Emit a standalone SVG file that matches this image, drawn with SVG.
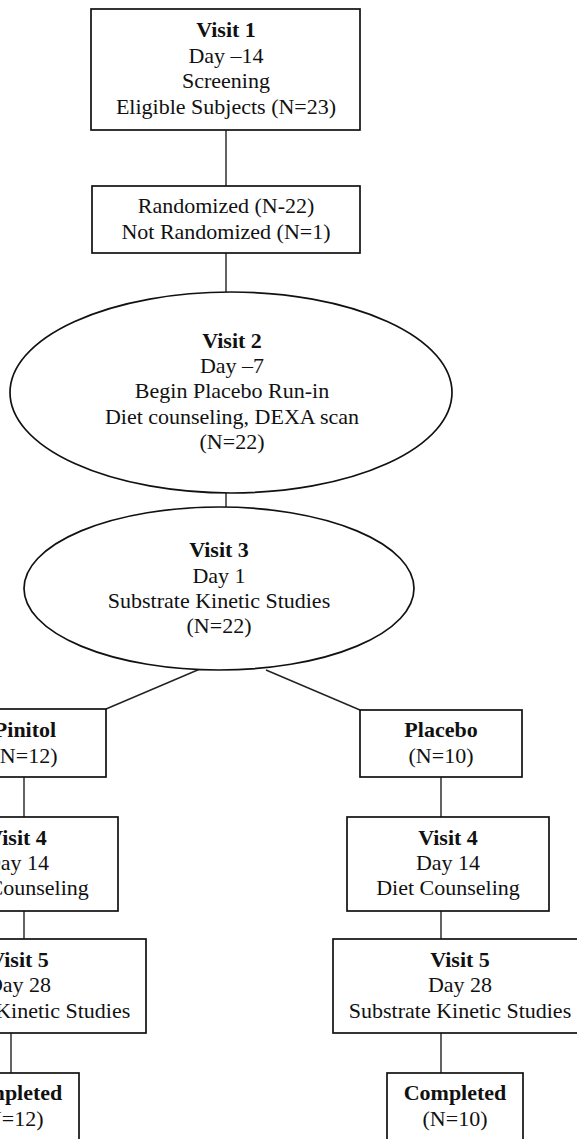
<svg xmlns="http://www.w3.org/2000/svg" width="577" height="1139" viewBox="0 0 577 1139">
<style>
.n{fill:#fff;stroke:#111;stroke-width:1.7}
.c{stroke:#222;stroke-width:1.4;fill:none}
text{font-family:"Liberation Serif","Times New Roman",serif;font-size:22px;fill:#111;text-anchor:middle}
.b{font-weight:bold}
</style>
<rect width="577" height="1139" fill="#fff"/>
<g id="connectors">
<line class="c" x1="226" y1="130" x2="226" y2="186"/>
<line class="c" x1="226" y1="253" x2="226" y2="292"/>
<line class="c" x1="226" y1="493" x2="226" y2="507"/>
<line class="c" x1="200" y1="669" x2="106" y2="709"/>
<line class="c" x1="266" y1="670" x2="360" y2="710"/>
<line class="c" x1="24" y1="777" x2="24" y2="817"/>
<line class="c" x1="441" y1="777" x2="441" y2="817"/>
<line class="c" x1="24" y1="911" x2="24" y2="939"/>
<line class="c" x1="441" y1="911" x2="441" y2="939"/>
<line class="c" x1="11" y1="1033" x2="11" y2="1073"/>
<line class="c" x1="441" y1="1033" x2="441" y2="1073"/>
</g>
<g id="visit1">
<rect class="n" x="91" y="9" width="269" height="121"/>
<text x="226" y="37" class="b">Visit 1</text>
<text x="226" y="63">Day –14</text>
<text x="226" y="88">Screening</text>
<text x="226" y="114">Eligible Subjects (N=23)</text>
</g>
<g id="randomized">
<rect class="n" x="92" y="186" width="268" height="67"/>
<text x="226" y="213">Randomized (N-22)</text>
<text x="226" y="239">Not Randomized (N=1)</text>
</g>
<g id="visit2">
<ellipse class="n" cx="231" cy="392.5" rx="221" ry="100.5"/>
<text x="232" y="348" class="b">Visit 2</text>
<text x="232" y="373">Day –7</text>
<text x="232" y="398">Begin Placebo Run-in</text>
<text x="232" y="424">Diet counseling, DEXA scan</text>
<text x="232" y="449">(N=22)</text>
</g>
<g id="visit3">
<ellipse class="n" cx="219" cy="588.5" rx="195" ry="81.5"/>
<text x="219" y="557" class="b">Visit 3</text>
<text x="219" y="583">Day 1</text>
<text x="219" y="608">Substrate Kinetic Studies</text>
<text x="219" y="633">(N=22)</text>
</g>
<g id="pinitol">
<rect class="n" x="-56" y="709" width="162" height="68"/>
<text x="25" y="737" class="b">Pinitol</text>
<text x="25" y="763">(N=12)</text>
</g>
<g id="placebo">
<rect class="n" x="360" y="710" width="162" height="67"/>
<text x="441" y="737" class="b">Placebo</text>
<text x="441" y="763">(N=10)</text>
</g>
<g id="visit4-pinitol">
<rect class="n" x="-84" y="817" width="202" height="94"/>
<text x="17" y="845" class="b">Visit 4</text>
<text x="17" y="870">Day 14</text>
<text x="17" y="895">Diet Counseling</text>
</g>
<g id="visit4-placebo">
<rect class="n" x="347" y="817" width="202" height="94"/>
<text x="448" y="845" class="b">Visit 4</text>
<text x="448" y="870">Day 14</text>
<text x="448" y="895">Diet Counseling</text>
</g>
<g id="visit5-pinitol">
<rect class="n" x="-108" y="939" width="254" height="94"/>
<text x="19" y="967" class="b">Visit 5</text>
<text x="19" y="992">Day 28</text>
<text x="19" y="1018">Substrate Kinetic Studies</text>
</g>
<g id="visit5-placebo">
<rect class="n" x="333" y="939" width="255" height="94"/>
<text x="460" y="967" class="b">Visit 5</text>
<text x="460" y="992">Day 28</text>
<text x="460" y="1018">Substrate Kinetic Studies</text>
</g>
<g id="completed-pinitol">
<rect class="n" x="-56" y="1073" width="135" height="70"/>
<text x="11" y="1100" class="b">Completed</text>
<text x="11" y="1126">(N=12)</text>
</g>
<g id="completed-placebo">
<rect class="n" x="387" y="1073" width="136" height="70"/>
<text x="455" y="1100" class="b">Completed</text>
<text x="455" y="1126">(N=10)</text>
</g>
</svg>
